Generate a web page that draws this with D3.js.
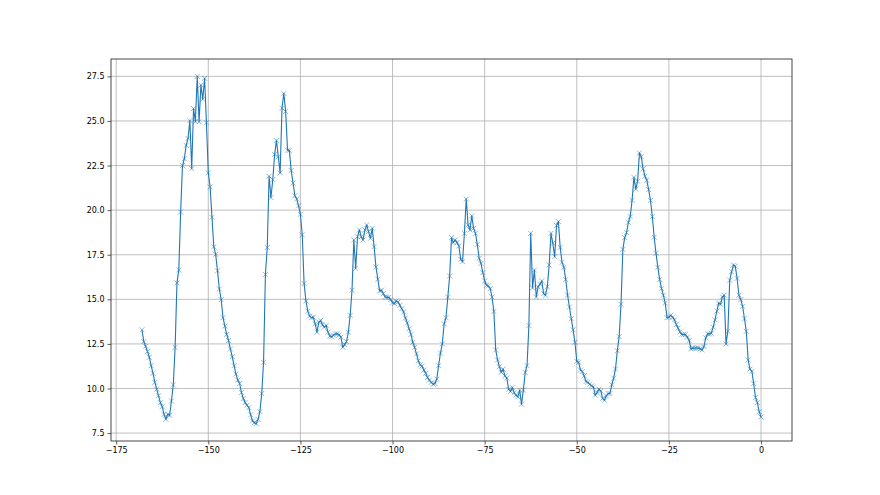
<!DOCTYPE html>
<html lang="en">
  <head>
    <meta charset="utf-8" />
    <title>Hourly readings</title>
    <script src="https://d3js.org/d3.v7.min.js"></script>
    <style type="text/css">
      body { margin: 0; background: #fff; }
      svg text { font-family: 'DejaVu Sans', sans-serif; font-size: 8px; fill: #000; }
    </style>
  </head>
  <body>
    <script type="text/javascript">
      // hours before now (half-hour samples)
      const hours = [
        -168, -167.5, -167, -166.5, -166, -165.5, -165, -164.5, -164, -163.5, -163, -162.5, -162, -161.5, -161, -160.5, -160, -159.5, -159, -158.5,
        -158, -157.5, -157, -156.5, -156, -155.5, -155, -154.5, -154, -153.5, -153, -152.5, -152, -151.5, -151, -150.5, -150, -149.5, -149, -148.5,
        -148, -147.5, -147, -146.5, -146, -145.5, -145, -144.5, -144, -143.5, -143, -142.5, -142, -141.5, -141, -140.5, -140, -139.5, -139, -138.5,
        -138, -137.5, -137, -136.5, -136, -135.5, -135, -134.5, -134, -133.5, -133, -132.5, -132, -131.5, -131, -130.5, -130, -129.5, -129, -128.5,
        -128, -127.5, -127, -126.5, -126, -125.5, -125, -124.5, -124, -123.5, -123, -122.5, -122, -121.5, -121, -120.5, -120, -119.5, -119, -118.5,
        -118, -117.5, -117, -116.5, -116, -115.5, -115, -114.5, -114, -113.5, -113, -112.5, -112, -111.5, -111, -110.5, -110, -109.5, -109, -108.5,
        -108, -107.5, -107, -106.5, -106, -105.5, -105, -104.5, -104, -103.5, -103, -102.5, -102, -101.5, -101, -100.5, -100, -99.5, -99, -98.5,
        -98, -97.5, -97, -96.5, -96, -95.5, -95, -94.5, -94, -93.5, -93, -92.5, -92, -91.5, -91, -90.5, -90, -89.5, -89, -88.5,
        -88, -87.5, -87, -86.5, -86, -85.5, -85, -84.5, -84, -83.5, -83, -82.5, -82, -81.5, -81, -80.5, -80, -79.5, -79, -78.5,
        -78, -77.5, -77, -76.5, -76, -75.5, -75, -74.5, -74, -73.5, -73, -72.5, -72, -71.5, -71, -70.5, -70, -69.5, -69, -68.5,
        -68, -67.5, -67, -66.5, -66, -65.5, -65, -64.5, -64, -63.5, -63, -62.5, -62, -61.5, -61, -60.5, -60, -59.5, -59, -58.5,
        -58, -57.5, -57, -56.5, -56, -55.5, -55, -54.5, -54, -53.5, -53, -52.5, -52, -51.5, -51, -50.5, -50, -49.5, -49, -48.5,
        -48, -47.5, -47, -46.5, -46, -45.5, -45, -44.5, -44, -43.5, -43, -42.5, -42, -41.5, -41, -40.5, -40, -39.5, -39, -38.5,
        -38, -37.5, -37, -36.5, -36, -35.5, -35, -34.5, -34, -33.5, -33, -32.5, -32, -31.5, -31, -30.5, -30, -29.5, -29, -28.5,
        -28, -27.5, -27, -26.5, -26, -25.5, -25, -24.5, -24, -23.5, -23, -22.5, -22, -21.5, -21, -20.5, -20, -19.5, -19, -18.5,
        -18, -17.5, -17, -16.5, -16, -15.5, -15, -14.5, -14, -13.5, -13, -12.5, -12, -11.5, -11, -10.5, -10, -9.5, -9, -8.5,
        -8, -7.5, -7, -6.5, -6, -5.5, -5, -4.5, -4, -3.5, -3, -2.5, -2, -1.5, -1, -0.5, 0
      ];

      // values
      const readings = [
        13.29, 12.63, 12.37, 12.07, 11.75, 11.28, 10.85, 10.34, 9.96, 9.59,
        9.21, 8.98, 8.55, 8.27, 8.55, 8.5, 9.3, 10.2, 12.31, 15.92,
        16.64, 19.89, 22.5, 22.88, 23.63, 24.02, 25.02, 22.33, 25.7, 24.96,
        27.5, 24.96, 27.01, 26.22, 27.39, 24.9, 22.09, 21.3, 19.6, 17.95,
        17.52, 16.6, 15.58, 14.98, 13.97, 13.5, 13.03, 12.69, 12.22, 11.79,
        11.28, 10.81, 10.47, 10.28, 9.77, 9.44, 9.21, 9.06, 8.93,
        8.52, 8.18, 8.08, 8.03, 8.27, 8.7, 9.72, 11.47, 16.39, 17.91,
        21.9, 20.71, 21.71, 23.12, 23.91, 22.99, 22.09, 25.71, 26.54, 25.53,
        23.36, 23.35, 22.22, 21.52, 20.81, 20.62, 20.24, 19.77, 18.61, 15.88,
        14.91, 14.34, 14.06, 13.97, 14.0, 13.63, 13.16, 13.72, 13.82, 13.57,
        13.44, 13.53, 13.16, 12.93, 12.91, 12.99, 13.06, 13.06, 13.01, 12.88,
        12.31, 12.46, 12.63, 13.16, 14.1, 15.51, 18.33, 16.73, 18.51, 18.89,
        18.51,
        18.33, 18.89, 19.17, 18.8, 18.42, 18.98, 17.95, 16.82, 16.13, 15.47,
        15.51, 15.32, 15.13, 15.11, 15.11, 14.98, 14.81, 14.76, 14.91, 14.85,
        14.66, 14.47, 14.29, 13.95, 13.67, 13.35, 13.03, 12.59, 12.31, 11.94,
        11.56, 11.33, 11.26, 11.03, 10.85, 10.62, 10.47, 10.34, 10.24, 10.28,
        10.53, 11.28, 11.99, 12.5, 13.63, 13.97, 15.13, 16.3, 18.46, 18.18,
        18.33, 18.18, 17.99, 17.24, 17.11, 18.7, 20.62, 19.17, 18.89, 19.68,
        18.98, 18.7, 18.08, 17.3,
        17.01, 16.5, 16.03, 15.79, 15.75, 15.6, 15.13, 14.32, 12.16, 11.6,
        11.22, 10.9, 11.09, 10.71, 10.58, 9.96, 9.83, 10.06, 9.77, 9.62,
        9.53, 9.91, 9.12, 9.91, 10.9, 11.28, 13.53, 18.7, 15.64, 16.64,
        15.13, 15.7, 15.85, 16.03, 15.32, 15.23, 15.7, 16.92, 18.7, 18.14,
        17.39, 19.14, 19.36, 17.91, 17.07, 16.79, 16.11, 15.23, 14.57, 13.91,
        13.29, 12.59, 11.52, 11.47, 11.03, 10.96, 10.71, 10.39, 10.34, 10.24,
        10.15, 10.09, 9.62, 9.77, 9.96, 9.87, 9.45, 9.34, 9.59, 9.72,
        9.72, 10.21, 10.58, 11.09, 12.12, 12.91, 14.72, 17.8, 18.46, 18.74,
        19.32, 19.64, 20.55, 21.84, 21.18, 21.62, 23.21, 22.99, 22.31, 21.9,
        21.67, 21.15, 20.55, 19.64, 18.48, 17.58, 16.79, 16.11, 15.6, 15.23,
        14.79, 13.97, 14.0, 14.1, 14.0, 13.85, 13.59, 13.38, 13.16, 13.03,
        13.03, 13.03, 12.88, 12.69, 12.22, 12.27, 12.26, 12.27, 12.27, 12.22,
        12.16, 12.35, 12.84, 13.06,
        13.06, 13.1, 13.44, 13.85, 14.34, 14.79, 14.72, 15.13, 15.23, 12.5,
        13.21, 16.07, 16.54, 16.92, 16.86, 16.17, 15.23, 14.98, 14.61, 13.91,
        13.21, 11.6, 11.09, 10.96, 10.28, 9.49, 9.21, 8.7, 8.4
      ];

      const xTicks = [-175, -150, -125, -100, -75, -50, -25, 0];
      const yTicks = [7.5, 10.0, 12.5, 15.0, 17.5, 20.0, 22.5, 25.0, 27.5];

      const w = 880;
      const h = 495;
      const margin = { left: 111, right: 88, top: 59, bottom: 54 };
      const colour = '#1f77b4';

      const dataset = hours.map((x, i) => ({ x: x, y: readings[i] }));

      // matplotlib style 5% margins around the data
      const pad = ([a, b]) => [a - (b - a) * 0.05, b + (b - a) * 0.05];

      const xScale = d3
        .scaleLinear()
        .domain(pad(d3.extent(hours)))
        .range([margin.left, w - margin.right]);

      const yScale = d3
        .scaleLinear()
        .domain(pad(d3.extent(readings)))
        .range([h - margin.bottom, margin.top]);

      const svg = d3
        .select('body')
        .append('svg')
        .attr('width', w)
        .attr('height', h);

      // Grid
      const grid = svg.append('g').attr('class', 'grid');
      grid
        .selectAll('.gx')
        .data(xTicks)
        .enter()
        .append('line')
        .attr('x1', d => xScale(d))
        .attr('x2', d => xScale(d))
        .attr('y1', margin.top)
        .attr('y2', h - margin.bottom)
        .attr('stroke', '#b0b0b0')
        .attr('stroke-width', 0.8);
      grid
        .selectAll('.gy')
        .data(yTicks)
        .enter()
        .append('line')
        .attr('x1', margin.left)
        .attr('x2', w - margin.right)
        .attr('y1', d => yScale(d))
        .attr('y2', d => yScale(d))
        .attr('stroke', '#b0b0b0')
        .attr('stroke-width', 0.8);

      // Line
      const line = d3
        .line()
        .x(d => xScale(d.x))
        .y(d => yScale(d.y));

      svg
        .append('path')
        .datum(dataset)
        .attr('d', line)
        .attr('fill', 'none')
        .attr('stroke', colour)
        .attr('stroke-width', 1.1)
        .attr('stroke-linejoin', 'round');

      // x markers
      const m = 2.5;
      svg
        .append('g')
        .selectAll('path')
        .data(dataset)
        .enter()
        .append('path')
        .attr('transform', d => `translate(${xScale(d.x)},${yScale(d.y)})`)
        .attr('d', `M${-m},${-m}L${m},${m}M${-m},${m}L${m},${-m}`)
        .attr('stroke', colour)
        .attr('stroke-width', 0.6)
        .attr('stroke-opacity', 0.85)
        .attr('fill', 'none');

      // Axes
      const fmtMinus = s => s.replace('-', '\u2212');
      const xAxis = d3
        .axisBottom(xScale)
        .tickValues(xTicks)
        .tickSize(3.5)
        .tickPadding(3)
        .tickFormat(d => fmtMinus(String(d)));
      const yAxis = d3
        .axisLeft(yScale)
        .tickValues(yTicks)
        .tickSize(3.5)
        .tickPadding(3)
        .tickFormat(d3.format('.1f'));

      const gx = svg
        .append('g')
        .attr('transform', `translate(0, ${h - margin.bottom})`)
        .call(xAxis);
      const gy = svg
        .append('g')
        .attr('transform', `translate(${margin.left},0)`)
        .call(yAxis);

      [gx, gy].forEach(g => {
        g.select('.domain').remove();
        g.selectAll('.tick line').attr('stroke', '#333').attr('stroke-width', 0.8);
        g.selectAll('.tick text')
          .attr('fill', '#222')
          .style('font-family', "'DejaVu Sans', sans-serif")
          .style('font-size', '8px');
      });

      // Frame
      svg
        .append('rect')
        .attr('x', margin.left)
        .attr('y', margin.top)
        .attr('width', w - margin.left - margin.right)
        .attr('height', h - margin.top - margin.bottom)
        .attr('fill', 'none')
        .attr('stroke', '#333')
        .attr('stroke-width', 0.9);
    </script>
  </body>
</html>
